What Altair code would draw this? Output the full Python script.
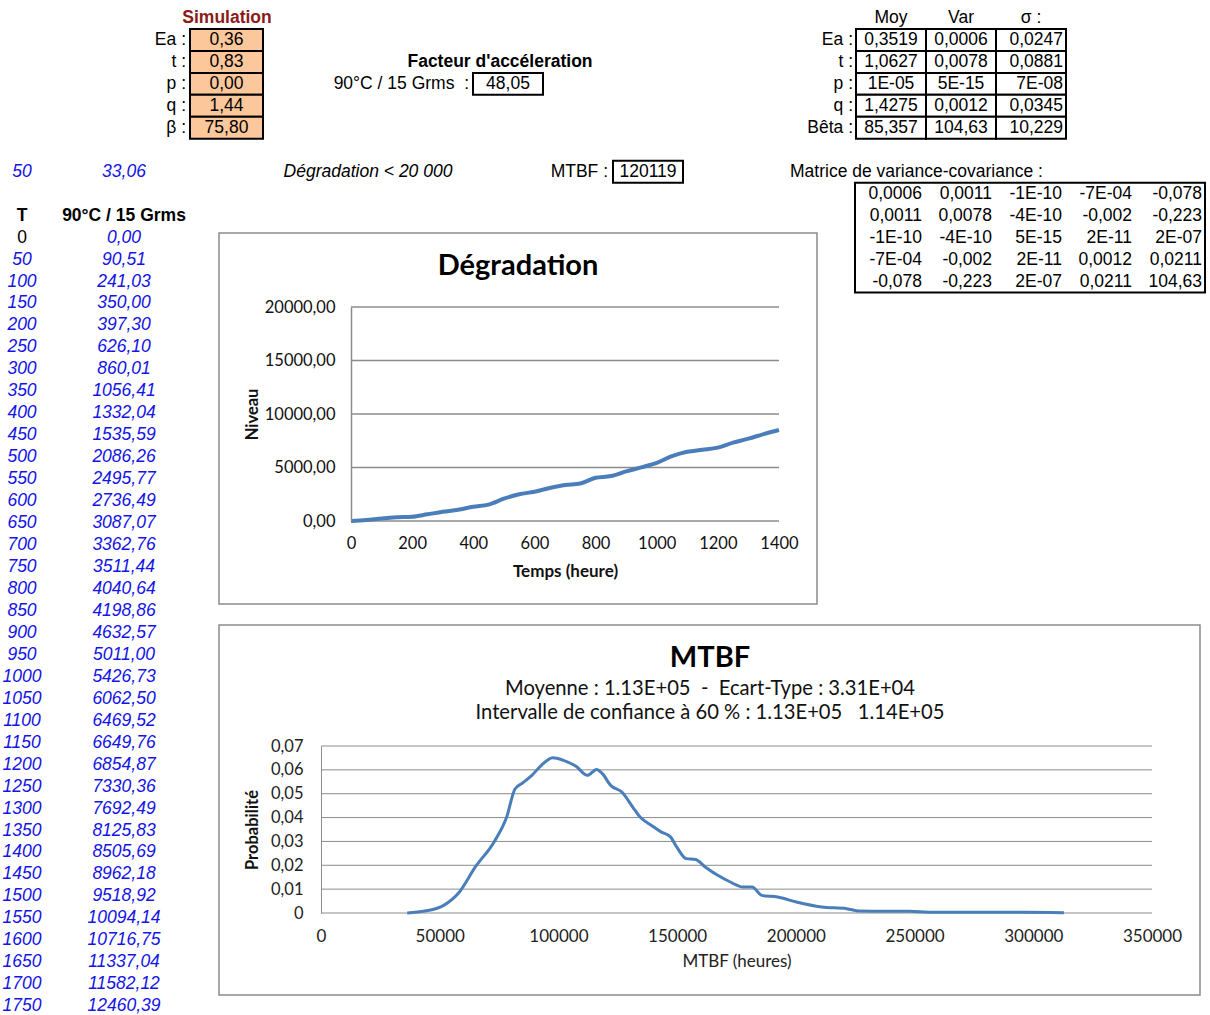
import altair as alt
import pandas as pd

# ---------------- data ----------------
sim_title = "Simulation"
sim_labels = ["Ea :", "t :", "p :", "q :", "β :"]
sim_values = ["0,36", "0,83", "0,00", "1,44", "75,80"]

fa_title = "Facteur d'accéleration"
fa_label = "90°C / 15 Grms\u00a0\u00a0:"
fa_value = "48,05"

stat_headers = ["Moy", "Var", "σ :"]
stat_labels = ["Ea :", "t :", "p :", "q :", "Bêta :"]
stat_moy = ["0,3519", "1,0627", "1E-05", "1,4275", "85,357"]
stat_var = ["0,0006", "0,0078", "5E-15", "0,0012", "104,63"]
stat_sig = ["0,0247", "0,0881", "7E-08", "0,0345", "10,229"]

row7_T = "50"
row7_val = "33,06"
deg_limit = "Dégradation < 20 000"
mtbf_label = "MTBF :"
mtbf_value = "120119"
cov_title = "Matrice de variance-covariance :"
cov_matrix = [
    ["0,0006", "0,0011", "-1E-10", "-7E-04", "-0,078"],
    ["0,0011", "0,0078", "-4E-10", "-0,002", "-0,223"],
    ["-1E-10", "-4E-10", "5E-15", "2E-11", "2E-07"],
    ["-7E-04", "-0,002", "2E-11", "0,0012", "0,0211"],
    ["-0,078", "-0,223", "2E-07", "0,0211", "104,63"],
]

T_header = "T"
V_header = "90°C / 15 Grms"
T_values = [0, 50, 100, 150, 200, 250, 300, 350, 400, 450, 500, 550, 600, 650,
            700, 750, 800, 850, 900, 950, 1000, 1050, 1100, 1150, 1200, 1250,
            1300, 1350, 1400, 1450, 1500, 1550, 1600, 1650, 1700, 1750]
deg_values = [0.00, 90.51, 241.03, 350.00, 397.30, 626.10, 860.01, 1056.41,
              1332.04, 1535.59, 2086.26, 2495.77, 2736.49, 3087.07, 3362.76,
              3511.44, 4040.64, 4198.86, 4632.57, 5011.00, 5426.73, 6062.50,
              6469.52, 6649.76, 6854.87, 7330.36, 7692.49, 8125.83, 8505.69,
              8962.18, 9518.92, 10094.14, 10716.75, 11337.04, 11582.12, 12460.39]

deg_title = "Dégradation"
deg_xlabel = "Temps (heure)"
deg_ylabel = "Niveau"
deg_xticks = [0, 200, 400, 600, 800, 1000, 1200, 1400]
deg_yticks = [0, 5000, 10000, 15000, 20000]

mtbf_title = "MTBF"
mtbf_sub1 = "Moyenne : 1.13E+05\u00a0\u00a0-\u00a0\u00a0Ecart-Type : 3.31E+04"
mtbf_sub2 = "Intervalle de confiance à 60 % : 1.13E+05\u00a0\u00a0\u00a01.14E+05"
mtbf_xlabel = "MTBF (heures)"
mtbf_ylabel = "Probabilité"
mtbf_xticks = [0, 50000, 100000, 150000, 200000, 250000, 300000, 350000]
mtbf_yticks = [0, 0.01, 0.02, 0.03, 0.04, 0.05, 0.06, 0.07]
mtbf_x = [36300, 43750, 51700, 58300, 65000, 72900, 78200, 81700, 84900, 88800,
          92800, 97600, 102100, 107400, 112200, 116100, 118500, 122000, 126700,
          131300, 134400, 139200, 143200, 147200, 149800, 153800, 157800, 161800,
          167100, 172400, 177700, 181600, 185600, 192300, 200200, 210800, 221400,
          226700, 237300, 247900, 255900, 274500, 295700, 312900]
mtbf_p = [0.0, 0.0008, 0.0032, 0.0088, 0.0193, 0.0298, 0.0402, 0.052, 0.0545,
          0.0577, 0.0619, 0.0651, 0.064, 0.0615, 0.0577, 0.0602, 0.0584, 0.0535,
          0.0507, 0.0444, 0.0402, 0.0367, 0.034, 0.0319, 0.0277, 0.0228, 0.0224,
          0.0193, 0.0158, 0.013, 0.0109, 0.0109, 0.0074, 0.0067, 0.0046, 0.0025,
          0.0018, 0.0008, 0.0007, 0.0007, 0.0003, 0.0003, 0.0003, 0.0001]

# ---------------- layout / style ----------------
W, H = 1210, 1015
ROW0, ROWH, NROWS = 18, 21.96, 46
SF = "Liberation Sans"
CF = "Lato"
FS = 17.5
BLUE = "#1414E6"
ORANGE = "#FCC79A"
GRID = "#8C8C8C"
LINE = "#4A7EBB"


def rowscale():
    return alt.Scale(domain=[0, NROWS], range=[ROW0, ROW0 + NROWS * ROWH], nice=False, zero=False)


def Yr(field):
    return alt.Y(f"{field}:Q", scale=rowscale(), axis=None)


def colscale(n, left, right):
    return alt.Scale(domain=[0, n], range=[left, right], nice=False, zero=False)


def text_layer(df, x, size=FS, **kw):
    return alt.Chart(df).mark_text(font=SF, fontSize=size, **kw).encode(x=x, y=Yr("r"), text="t:N")


def one(t, r):
    return pd.DataFrame({"t": [t], "r": [r]})


layers = []

# ---- Chart frames (drawn first, behind everything)
frame = pd.DataFrame({"k": [0]})
layers.append(
    alt.Chart(frame).mark_rect(fill="white", stroke=GRID, strokeWidth=1.5)
    .encode(x=alt.value(219), x2=alt.value(817), y=alt.value(233), y2=alt.value(604))
)
layers.append(
    alt.Chart(frame).mark_rect(fill="white", stroke=GRID, strokeWidth=1.5)
    .encode(x=alt.value(219), x2=alt.value(1200), y=alt.value(625), y2=alt.value(995))
)

# ---- Simulation block
layers.append(text_layer(one(sim_title, 0), alt.value(227), fontWeight="bold", color="#8B1A1A"))
sim_df = pd.DataFrame({"lab": sim_labels, "t": sim_values, "r": list(range(1, 1 + len(sim_values)))})
layers.append(
    alt.Chart(sim_df).transform_calculate(r0="datum.r - 0.5", r1="datum.r + 0.5")
    .mark_rect(fill=ORANGE, stroke="black", strokeWidth=2)
    .encode(x=alt.value(190), x2=alt.value(263), y=Yr("r0"), y2="r1:Q")
)
layers.append(text_layer(sim_df, alt.value(226.5)))
layers.append(
    alt.Chart(sim_df).mark_text(font=SF, fontSize=FS, align="right")
    .encode(x=alt.value(186), y=Yr("r"), text="lab:N")
)

# ---- Facteur d'accélération
layers.append(text_layer(one(fa_title, 2), alt.value(500), fontWeight="bold"))
layers.append(text_layer(one(fa_label, 3), alt.value(469), align="right"))
fa_df = one(fa_value, 3)
layers.append(
    alt.Chart(fa_df).transform_calculate(r0="datum.r - 0.5", r1="datum.r + 0.5")
    .mark_rect(fill="white", stroke="black", strokeWidth=2)
    .encode(x=alt.value(473), x2=alt.value(543), y=Yr("r0"), y2="r1:Q")
)
layers.append(text_layer(fa_df, alt.value(508)))

# ---- Statistics table
st_scale = colscale(3, 856, 1066)
hdr_df = pd.DataFrame({"t": stat_headers, "c": list(range(len(stat_headers))), "r": 0})
layers.append(
    alt.Chart(hdr_df).transform_calculate(cm="datum.c + 0.5")
    .mark_text(font=SF, fontSize=FS)
    .encode(x=alt.X("cm:Q", scale=st_scale, axis=None), y=Yr("r"), text="t:N")
)
rows = []
for ci, col in enumerate([stat_moy, stat_var, stat_sig]):
    for ri, v in enumerate(col):
        rows.append({"t": v, "c": ci, "r": ri + 1})
st_df = pd.DataFrame(rows)
layers.append(
    alt.Chart(st_df).transform_calculate(r0="datum.r - 0.5", r1="datum.r + 0.5", c1="datum.c + 1")
    .mark_rect(fill="white", stroke="black", strokeWidth=2)
    .encode(x=alt.X("c:Q", scale=st_scale, axis=None), x2="c1:Q", y=Yr("r0"), y2="r1:Q")
)
layers.append(
    alt.Chart(st_df).transform_filter("datum.c < 2").transform_calculate(cm="datum.c + 0.5")
    .mark_text(font=SF, fontSize=FS)
    .encode(x=alt.X("cm:Q", scale=st_scale, axis=None), y=Yr("r"), text="t:N")
)
layers.append(
    alt.Chart(st_df).transform_filter("datum.c == 2").transform_calculate(cm="datum.c + 1")
    .mark_text(font=SF, fontSize=FS, align="right", dx=-3)
    .encode(x=alt.X("cm:Q", scale=st_scale, axis=None), y=Yr("r"), text="t:N")
)
stl_df = pd.DataFrame({"t": stat_labels, "r": list(range(1, 1 + len(stat_labels)))})
layers.append(text_layer(stl_df, alt.value(853), align="right"))

# ---- row 7
layers.append(text_layer(one(row7_T, 7), alt.value(22), fontStyle="italic", color=BLUE))
layers.append(text_layer(one(row7_val, 7), alt.value(124), fontStyle="italic", color=BLUE))
layers.append(text_layer(one(deg_limit, 7), alt.value(368), fontStyle="italic"))
layers.append(text_layer(one(mtbf_label, 7), alt.value(608), align="right"))
mb_df = one(mtbf_value, 7)
layers.append(
    alt.Chart(mb_df).transform_calculate(r0="datum.r - 0.5", r1="datum.r + 0.5")
    .mark_rect(fill="white", stroke="black", strokeWidth=2)
    .encode(x=alt.value(613), x2=alt.value(683), y=Yr("r0"), y2="r1:Q")
)
layers.append(text_layer(mb_df, alt.value(648)))
layers.append(text_layer(one(cov_title, 7), alt.value(790), align="left"))

# ---- covariance matrix
cv_scale = colscale(5, 855, 1205)
rows = []
for ri, line in enumerate(cov_matrix):
    for ci, v in enumerate(line):
        rows.append({"t": v, "c": ci, "r": ri + 8})
cv_df = pd.DataFrame(rows)
box_df = pd.DataFrame({"c0": [0], "c1": [len(cov_matrix[0])], "r0": [7.5], "r1": [7.5 + len(cov_matrix)]})
layers.append(
    alt.Chart(box_df).mark_rect(fill="white", stroke="black", strokeWidth=2)
    .encode(x=alt.X("c0:Q", scale=cv_scale, axis=None), x2="c1:Q", y=Yr("r0"), y2="r1:Q")
)
layers.append(
    alt.Chart(cv_df).transform_calculate(cr="datum.c + 1")
    .mark_text(font=SF, fontSize=FS, align="right", dx=-3)
    .encode(x=alt.X("cr:Q", scale=cv_scale, axis=None), y=Yr("r"), text="t:N")
)

# ---- T table
layers.append(text_layer(one(T_header, 9), alt.value(22), fontWeight="bold"))
layers.append(text_layer(one(V_header, 9), alt.value(124), fontWeight="bold"))
tt = pd.DataFrame({
    "T": T_values,
    "t": [str(v) for v in T_values],
    "v": [f"{v:.2f}".replace(".", ",") for v in deg_values],
    "r": list(range(10, 10 + len(T_values))),
})
layers.append(text_layer(tt[tt["T"] == 0], alt.value(22)))
layers.append(text_layer(tt[tt["T"] != 0], alt.value(22), fontStyle="italic", color=BLUE))
layers.append(
    alt.Chart(tt).mark_text(font=SF, fontSize=FS, fontStyle="italic", color=BLUE)
    .encode(x=alt.value(124), y=Yr("r"), text="v:N")
)

# ---- Degradation chart
dx_scale = lambda: alt.Scale(domain=[0, 1400], range=[351, 779], nice=False, zero=False)
dy_scale = lambda: alt.Scale(domain=[0, 20000], range=[521, 307], nice=False, zero=False)
layers.append(
    alt.Chart(pd.DataFrame({"t": [deg_title]})).mark_text(font=CF, fontSize=29, fontWeight="bold", color="black")
    .encode(x=alt.value(518), y=alt.value(266), text="t:N")
)
dg = pd.DataFrame({"v": deg_yticks}).assign(x0=0, x1=1400)
layers.append(
    alt.Chart(dg).mark_rule(color=GRID, strokeWidth=1.5)
    .encode(x=alt.X("x0:Q", scale=dx_scale(), axis=None), x2="x1:Q",
            y=alt.Y("v:Q", scale=dy_scale(), axis=None))
)
deg_df = pd.DataFrame({"T": T_values, "v": deg_values})
layers.append(
    alt.Chart(deg_df).transform_filter("datum.T <= 1400")
    .mark_line(color=LINE, strokeWidth=4, interpolate="monotone")
    .encode(
        x=alt.X("T:Q", scale=dx_scale(), axis=alt.Axis(
            orient="bottom", offset=521 - H, values=deg_xticks, format="d", grid=False,
            ticks=False, tickSize=0, domain=False, labelFont=CF, labelFontSize=16.5,
            labelColor="#111", labelPadding=14, labelFlush=False, labelOverlap=False,
            title=deg_xlabel, titleFont=CF, titleFontSize=17, titleFontWeight="bold",
            titleColor="#111", titlePadding=12, zindex=1)),
        y=alt.Y("v:Q", scale=dy_scale(), axis=alt.Axis(
            orient="left", offset=-351, values=deg_yticks, grid=False, ticks=False, tickSize=0,
            domain=True, domainColor=GRID, domainWidth=1.5,
            labelExpr="replace(format(datum.value, '.2f'), '.', ',')",
            labelFont=CF, labelFontSize=16.5, labelColor="#111", labelPadding=16,
            labelFlush=False, labelOverlap=False,
            title=deg_ylabel, titleFont=CF, titleFontSize=16.5, titleFontWeight="bold",
            titleColor="#111", titlePadding=4, zindex=1)),
    )
)

# ---- MTBF chart
mx_scale = lambda: alt.Scale(domain=[0, 350000], range=[321, 1152], nice=False, zero=False)
my_scale = lambda: alt.Scale(domain=[0, 0.07], range=[913, 746], nice=False, zero=False)
layers.append(
    alt.Chart(pd.DataFrame({"t": [mtbf_title]})).mark_text(font=CF, fontSize=29, fontWeight="bold", color="black")
    .encode(x=alt.value(710), y=alt.value(658), text="t:N")
)
layers.append(
    alt.Chart(pd.DataFrame({"t": [mtbf_sub1]})).mark_text(font=CF, fontSize=20.2, color="#111")
    .encode(x=alt.value(710), y=alt.value(689), text="t:N")
)
layers.append(
    alt.Chart(pd.DataFrame({"t": [mtbf_sub2]})).mark_text(font=CF, fontSize=20.2, color="#111")
    .encode(x=alt.value(710), y=alt.value(713), text="t:N")
)
mg = pd.DataFrame({"v": mtbf_yticks}).assign(x0=0, x1=350000)
layers.append(
    alt.Chart(mg).mark_rule(color=GRID, strokeWidth=1)
    .encode(x=alt.X("x0:Q", scale=mx_scale(), axis=None), x2="x1:Q",
            y=alt.Y("v:Q", scale=my_scale(), axis=None))
)
mt_df = pd.DataFrame({"x": mtbf_x, "p": mtbf_p})
layers.append(
    alt.Chart(mt_df).mark_line(color=LINE, strokeWidth=3, interpolate="monotone")
    .encode(
        x=alt.X("x:Q", scale=mx_scale(), axis=alt.Axis(
            orient="bottom", offset=913 - H, values=mtbf_xticks, format="d", grid=False,
            ticks=False, tickSize=0, domain=False, labelFont=CF, labelFontSize=17,
            labelColor="#222", labelPadding=15, labelFlush=False, labelOverlap=False,
            title=mtbf_xlabel, titleFont=CF, titleFontSize=17, titleFontWeight="normal",
            titleColor="#222", titlePadding=9, zindex=1)),
        y=alt.Y("p:Q", scale=my_scale(), axis=alt.Axis(
            orient="left", offset=-321, values=mtbf_yticks, grid=False, ticks=False, tickSize=0,
            domain=True, domainColor=GRID, domainWidth=1,
            labelExpr="datum.value == 0 ? '0' : replace(format(datum.value, '.2f'), '.', ',')",
            labelFont=CF, labelFontSize=16.5, labelColor="#222", labelPadding=18,
            labelFlush=False, labelOverlap=False,
            title=mtbf_ylabel, titleFont=CF, titleFontSize=16.5, titleFontWeight="bold",
            titleColor="#111", titlePadding=10, zindex=1)),
    )
)

chart = (
    alt.layer(*layers)
    .resolve_scale(x="independent", y="independent")
    .properties(width=W, height=H, autosize=alt.AutoSizeParams(type="none"), padding=0, background="white")
    .configure_view(stroke=None)
)

chart.save("out.html", embed_options={"renderer": "svg", "actions": False})
